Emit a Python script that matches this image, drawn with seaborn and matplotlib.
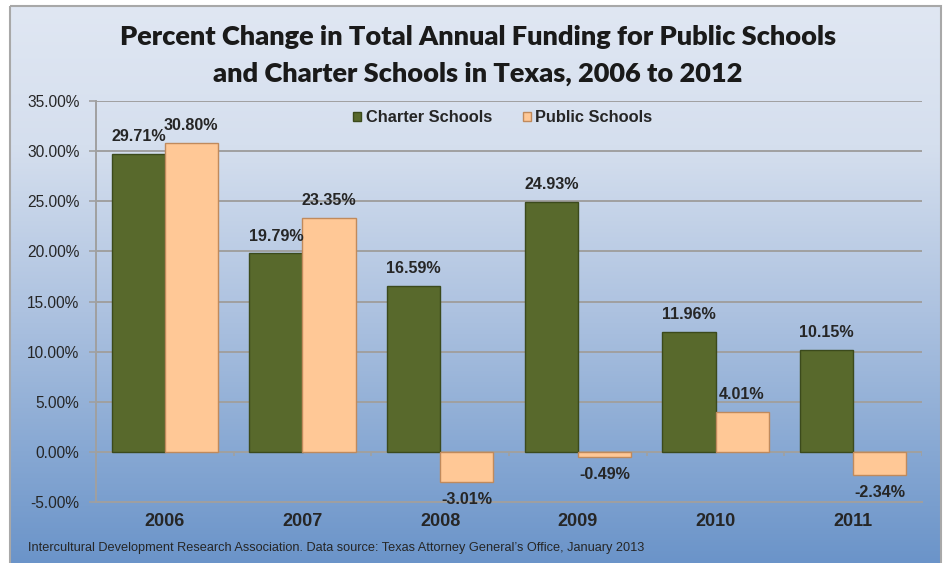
import numpy as np
import pandas as pd
import matplotlib
matplotlib.use("Agg")
import matplotlib.pyplot as plt
from matplotlib.colors import LinearSegmentedColormap
from matplotlib.patches import Rectangle
import seaborn as sns

years = ["2006", "2007", "2008", "2009", "2010", "2011"]
charter = [29.71, 19.79, 16.59, 24.93, 11.96, 10.15]
public = [30.80, 23.35, -3.01, -0.49, 4.01, -2.34]
series_names = ["Charter Schools", "Public Schools"]
y_ticks = [-5, 0, 5, 10, 15, 20, 25, 30, 35]

df = pd.DataFrame({
    "year": years * 2,
    "value": charter + public,
    "series": [series_names[0]] * len(years) + [series_names[1]] * len(years),
})

sns.set_theme(style="white")
plt.rcParams["font.family"] = ["Liberation Sans", "DejaVu Sans"]

W, H = 944, 563
fig = plt.figure(figsize=(W / 100, H / 100), dpi=100, facecolor="white")

# background gradient panel
bg = fig.add_axes([0, 0, 1, 1], zorder=-5)
bg.set_xlim(0, W)
bg.set_ylim(H, 0)
bg.axis("off")
cmap = LinearSegmentedColormap.from_list(
    "bgc", [(0, "#e0e7f3"), (0.25, "#d5dfee"), (0.55, "#adc2e0"),
            (0.8, "#87a8d3"), (1.0, "#6b94c9")])
grad = np.linspace(0, 1, 256).reshape(-1, 1)
bg.imshow(grad, cmap=cmap, aspect="auto", extent=[10, 941, 563, 6], zorder=0)
bg.add_patch(Rectangle((10, 6), 931, 560, fill=False, edgecolor="#a8a8a8", lw=1.5, zorder=1))

ax = fig.add_axes([96 / W, 1 - 502 / H, (922 - 96) / W, (502 - 101) / H])
ax.set_facecolor("none")

palette = {"Charter Schools": "#58692c", "Public Schools": "#ffc896"}
sns.barplot(data=df, x="year", y="value", hue="series", palette=palette,
            width=0.77, saturation=1, ax=ax, legend=True, zorder=3)

edge = {"Charter Schools": "#3b4a1c", "Public Schools": "#c08a5c"}
for cont, name in zip(ax.containers, series_names):
    for p in cont:
        p.set_edgecolor(edge[name])
        p.set_linewidth(1.0)
    ax.bar_label(cont, labels=[f"{v:.2f}%" for v in cont.datavalues],
                 padding=7, fontsize=11.6, fontweight="bold", color="#262626")

ax.set_ylim(-5, 35)
ax.set_xlim(-0.5, len(years) - 0.5)
ax.set_yticks(y_ticks)
ax.set_yticklabels([f"{v:.2f}%" for v in y_ticks], fontsize=11.2, color="#262626")
ax.yaxis.grid(True, color="#a0a0a0", linewidth=1.4, zorder=0)
ax.set_axisbelow(True)
ax.tick_params(axis="y", length=5, width=1.2, color="#a0a0a0", pad=7, left=True)
ax.tick_params(axis="x", length=0, pad=8)
for lab in ax.get_xticklabels():
    lab.set_fontsize(13)
    lab.set_fontweight("bold")
    lab.set_color("#262626")
ax.set_xlabel("")
ax.set_ylabel("")
for s in ["top", "right"]:
    ax.spines[s].set_visible(False)
ax.spines["left"].set_color("#a0a0a0")
ax.spines["left"].set_linewidth(1.4)
ax.spines["bottom"].set_color("#a0a0a0")
ax.spines["bottom"].set_linewidth(1.4)

# zero line with category-boundary tick marks
ax.axhline(0, color="#a0a0a0", lw=1.4, zorder=2)
ax.vlines(np.arange(-0.5, len(years)), -0.4, 0, color="#a0a0a0", lw=1.2, zorder=2)

leg = ax.legend(loc="center", bbox_to_anchor=(503 / W, 1 - 118 / H),
                bbox_transform=fig.transFigure, ncol=2, frameon=False,
                handlelength=0.45, handleheight=0.45, handletextpad=0.3,
                columnspacing=1.9, prop={"weight": "bold", "size": 11.8})
for t in leg.get_texts():
    t.set_color("#262626")
for h, name in zip(leg.legend_handles, series_names):
    h.set_edgecolor(edge[name])

fig.text(478 / W, 1 - 37 / H, "Percent Change in Total Annual Funding for Public Schools",
         ha="center", va="center", fontsize=19.5, fontweight="heavy", family="Lato", color="#1a1a1a")
fig.text(478 / W, 1 - 74 / H, "and Charter Schools in Texas, 2006 to 2012",
         ha="center", va="center", fontsize=19.5, fontweight="heavy", family="Lato", color="#1a1a1a")

fig.text(28 / W, 1 - 548 / H,
         "Intercultural Development Research Association. Data source: Texas Attorney General\u2019s Office, January 2013",
         ha="left", va="center", fontsize=9.2, color="#262626")

fig.savefig("out.png", dpi=100, facecolor="white")
